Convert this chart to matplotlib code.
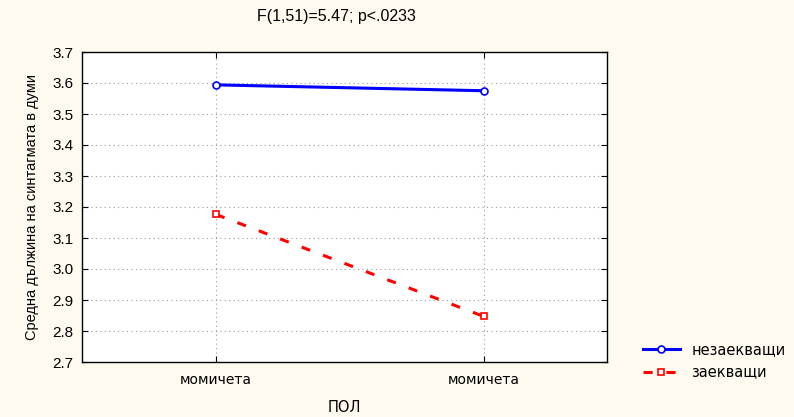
import matplotlib
matplotlib.use('Agg')
import matplotlib.pyplot as plt

# data
categories = ['момичета', 'момичета']
non_stutter = [3.594, 3.575]
stutter = [3.176, 2.847]
series_names = ['незаекващи', 'заекващи']
y_ticks = [2.7, 2.8, 2.9, 3.0, 3.1, 3.2, 3.3, 3.4, 3.5, 3.6, 3.7]

plt.rcParams['font.family'] = ['Liberation Sans', 'DejaVu Sans']
wide = ['DejaVu Sans']
bg = '#fffaf0'

fig = plt.figure(figsize=(7.94, 4.17), dpi=100, facecolor=bg)
ax = fig.add_axes([82/794, 55/417, 525/794, 310/417])
ax.set_facecolor('white')

x = list(range(len(categories)))
ax.plot(x, non_stutter, color='#0000ff', lw=2.2, marker='o', ms=5,
        mfc='white', mec='#0000ff', mew=1.2, label=series_names[0])
ax.plot(x, stutter, color='#ff0000', lw=2.2, ls=(0, (3, 4.5)), marker='s', ms=5,
        mfc='white', mec='#ff0000', mew=1.2, label=series_names[1])

ax.set_xlim(-0.5, 1.46)
ax.set_ylim(2.7, 3.7)
ax.set_yticks(y_ticks)
ax.set_yticklabels(['%.1f' % v for v in y_ticks], fontsize=11)
ax.set_xticks(x)
ax.set_xticklabels(categories, family=wide, fontsize=10)
ax.grid(True, ls=(0, (1, 3)), color='#999999', lw=0.8)
ax.tick_params(axis='both', direction='in', length=4,
               top=True, right=True, colors='black')
ax.tick_params(axis='y', pad=6)
ax.tick_params(axis='x', pad=8)
for s in ax.spines.values():
    s.set_linewidth(1.0)

ax.set_title('F(1,51)=5.47; p<.0233', fontsize=11.5, pad=22, x=0.485)
ax.set_xlabel('ПОЛ', fontsize=10.5, family=wide, labelpad=9)
ax.set_ylabel('Средна дължина на синтагмата в думи', fontsize=10.5,
              labelpad=10)

fig.legend(loc='center left', bbox_to_anchor=(630/794, 1 - 361/417),
           frameon=False, prop={'family': wide, 'size': 10.5},
           handlelength=2.5, labelspacing=0.5)

fig.savefig('out.png', dpi=100, facecolor=bg)
